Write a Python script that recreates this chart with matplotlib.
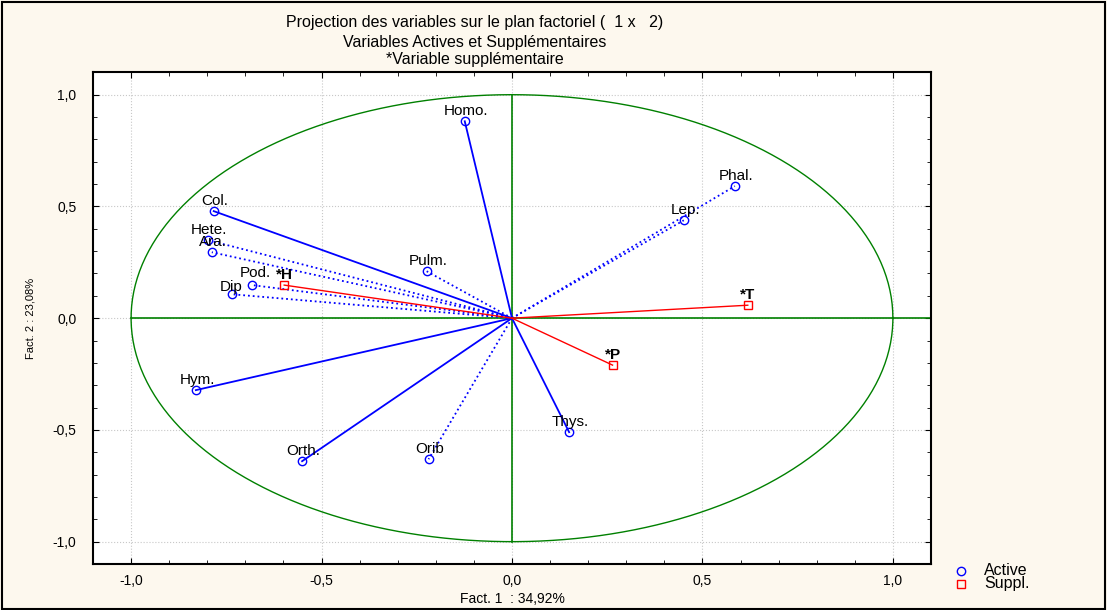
import numpy as np
import matplotlib.pyplot as plt
from matplotlib.ticker import MultipleLocator, FuncFormatter

plt.rcParams['font.family'] = ['Liberation Sans', 'DejaVu Sans']

# active variables (coordinates on factors 1 and 2)
act_names = ['Homo.', 'Phal.', 'Lep.', 'Col.', 'Hete.', 'Ara.', 'Pulm.', 'Pod.',
             'Dip', 'Hym.', 'Orth.', 'Orib', 'Thys.']
act_x = [-0.124, 0.585, 0.451, -0.783, -0.798, -0.788, -0.224, -0.682,
         -0.735, -0.830, -0.551, -0.219, 0.150]
act_y = [0.881, 0.591, 0.438, 0.479, 0.349, 0.295, 0.210, 0.148,
         0.107, -0.322, -0.640, -0.631, -0.510]
act_style = ['-', ':', ':', '-', ':', ':', ':', ':', ':', '-', '-', ':', '-']

# supplementary variables
sup_names = ['*H', '*T', '*P']
sup_x = [-0.598, 0.619, 0.264]
sup_y = [0.148, 0.058, -0.210]

bg = '#fdf8ee'
fig = plt.figure(figsize=(11.07, 6.10), dpi=100, facecolor=bg)
ax = fig.add_axes([0.084, 0.0754, 0.757, 0.806])
ax.set_facecolor('white')

# unit circle and axes
t = np.linspace(0, 2 * np.pi, 400)
ax.plot(np.cos(t), np.sin(t), color='#008000', lw=1)
ax.plot([-1, 1.1], [0, 0], color='#008000', lw=1.2)
ax.plot([0, 0], [-1, 1], color='#008000', lw=1.2)

for name, x, y, ls in zip(act_names, act_x, act_y, act_style):
    ax.plot([0, x], [0, y], color='blue', ls=ls, lw=1.3)
    ax.plot(x, y, 'o', mfc='none', mec='blue', ms=6, mew=1)
    off = (1, 2.5)
    if name == 'Pod.':
        off = (2, 3.5)
    elif name == 'Dip':
        off = (-1, 0.5)
    ax.annotate(name, (x, y), xytext=off, textcoords='offset points',
                ha='center', va='bottom', fontsize=11)

for name, x, y in zip(sup_names, sup_x, sup_y):
    ax.plot([0, x], [0, y], color='red', lw=1)
    ax.plot(x, y, 's', mfc='none', mec='red', ms=6, mew=1)
    ax.annotate(name, (x, y), xytext=(0, 2.5), textcoords='offset points',
                ha='center', va='bottom', fontsize=11, fontweight='bold')

ax.set_xlim(-1.1, 1.1)
ax.set_ylim(-1.1, 1.1)
for a in (ax.xaxis, ax.yaxis):
    a.set_major_locator(MultipleLocator(0.5))
    a.set_minor_locator(MultipleLocator(0.1))
    a.set_major_formatter(FuncFormatter(lambda v, p: f'{v:.1f}'.replace('.', ',')))
ax.tick_params(which='both', direction='in', top=True, right=True, labelsize=10)
ax.tick_params(which='major', length=4, pad=7)
ax.tick_params(which='minor', length=3)
ax.tick_params(axis='y', which='major', pad=12)
ax.grid(True, which='major', color='#c8c8c8', ls=':', lw=0.8)
ax.set_axisbelow(True)
for s in ax.spines.values():
    s.set_linewidth(1.5)

ax.set_xlabel('Fact. 1  : 34,92%', fontsize=10, labelpad=3)
ax.set_ylabel('Fact. 2 : 23,08%', fontsize=8, labelpad=12)

fig.text(0.429, 0.963, 'Projection des variables sur le plan factoriel (  1 x   2)',
         ha='center', va='center', fontsize=11.5)
fig.text(0.429, 0.931, 'Variables Actives et Supplémentaires',
         ha='center', va='center', fontsize=11.5)
fig.text(0.429, 0.902, '*Variable supplémentaire',
         ha='center', va='center', fontsize=11.5)

# legend
fig.lines.append(plt.Line2D([0.868], [0.064], marker='o', mfc='none', mec='blue',
                            ms=6, transform=fig.transFigure))
fig.lines.append(plt.Line2D([0.868], [0.043], marker='s', mfc='none', mec='red',
                            ms=6, transform=fig.transFigure))
fig.text(0.889, 0.064, 'Active', va='center', fontsize=11.5)
fig.text(0.889, 0.043, 'Suppl.', va='center', fontsize=11.5)

fig.patches.append(plt.Rectangle((0.002, 0.002), 0.996, 0.995, fill=False,
                                 ec='black', lw=1.5, transform=fig.transFigure))

fig.savefig('out.png', dpi=100, facecolor=bg)
